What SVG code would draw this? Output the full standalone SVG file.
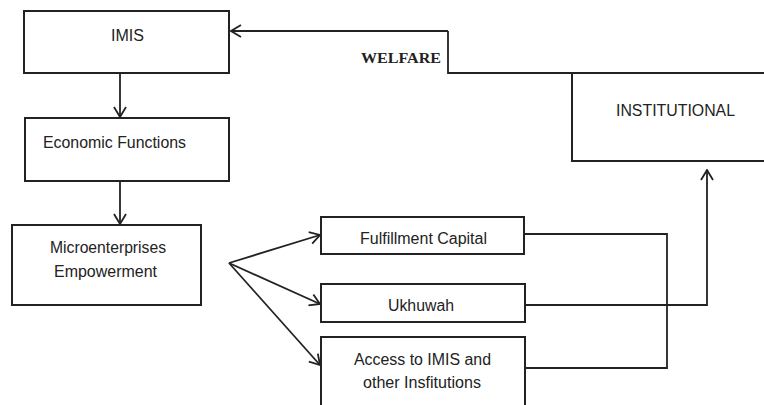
<svg xmlns="http://www.w3.org/2000/svg" width="764" height="405" viewBox="0 0 764 405">
<defs>
<style>
.box{fill:#fff;stroke:#222;stroke-width:2}
.ln{fill:none;stroke:#222;stroke-width:1.8}
.t{font-family:"Liberation Sans",Arial,sans-serif;font-size:16px;fill:#222;text-anchor:start}
.s{font-family:"Liberation Serif","Times New Roman",serif;font-size:14px;font-weight:bold;fill:#222}
</style>
<marker id="ah" viewBox="0 0 12 14" refX="11" refY="7" markerWidth="12" markerHeight="14" markerUnits="userSpaceOnUse" orient="auto">
<polyline points="1,1 11,7 1,13" fill="none" stroke="#222" stroke-width="1.8"/>
</marker>
</defs>
<rect width="764" height="405" fill="#fff"/>
<g id="connectors">
<polyline class="ln" points="448,31 231,31" marker-end="url(#ah)"/>
<polyline class="ln" points="448,31 448,73 764,73"/>
<line class="ln" x1="120" y1="73" x2="120" y2="117" marker-end="url(#ah)"/>
<line class="ln" x1="120" y1="181" x2="120" y2="224" marker-end="url(#ah)"/>
<line class="ln" x1="229" y1="263" x2="320" y2="235" marker-end="url(#ah)"/>
<line class="ln" x1="229" y1="263" x2="320" y2="304" marker-end="url(#ah)"/>
<line class="ln" x1="229" y1="263" x2="320" y2="365" marker-end="url(#ah)"/>
<polyline class="ln" points="524,234 667,234 667,368 525,368"/>
<polyline class="ln" points="525,305 707,305 707,170" marker-end="url(#ah)"/>
<text class="s" x="361" y="63" textLength="80" lengthAdjust="spacingAndGlyphs">WELFARE</text>
</g>
<g id="imis">
<rect class="box" x="24" y="11" width="205" height="62"/>
<text class="t" x="111" y="41" textLength="33" lengthAdjust="spacingAndGlyphs">IMIS</text>
</g>
<g id="economic-functions">
<rect class="box" x="25" y="118" width="204" height="63"/>
<text class="t" x="43" y="148" textLength="143" lengthAdjust="spacingAndGlyphs">Economic Functions</text>
</g>
<g id="microenterprises">
<rect class="box" x="12" y="225" width="189" height="80"/>
<text class="t" x="50" y="253" textLength="116" lengthAdjust="spacingAndGlyphs">Microenterprises</text>
<text class="t" x="54" y="277" textLength="103" lengthAdjust="spacingAndGlyphs">Empowerment</text>
</g>
<g id="institutional">
<polyline class="box" fill="none" points="764,73 572,73 572,161 764,161"/>
<text class="t" x="616" y="116" textLength="119" lengthAdjust="spacingAndGlyphs">INSTITUTIONAL</text>
</g>
<g id="fulfillment-capital">
<rect class="box" x="321" y="217" width="203" height="37"/>
<text class="t" x="360" y="244" textLength="127" lengthAdjust="spacingAndGlyphs">Fulfillment Capital</text>
</g>
<g id="ukhuwah">
<rect class="box" x="321" y="284" width="204" height="38"/>
<text class="t" x="388" y="311" textLength="66" lengthAdjust="spacingAndGlyphs">Ukhuwah</text>
</g>
<g id="access">
<rect class="box" x="321" y="337" width="204" height="80"/>
<text class="t" x="354" y="365" textLength="137" lengthAdjust="spacingAndGlyphs">Access to IMIS and</text>
<text class="t" x="363" y="388" textLength="118" lengthAdjust="spacingAndGlyphs">other Insfitutions</text>
</g>
</svg>
